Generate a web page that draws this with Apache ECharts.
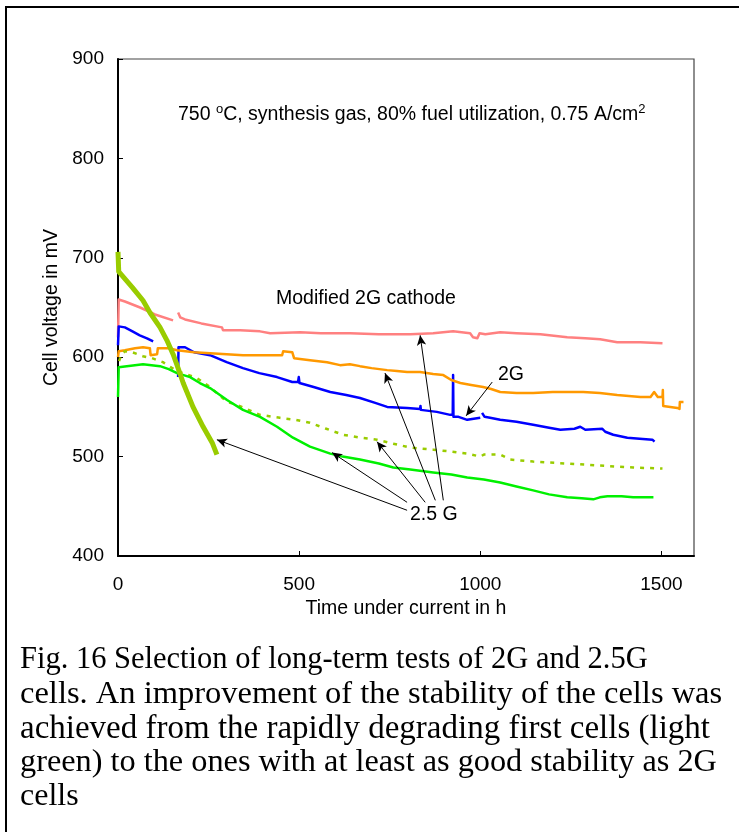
<!DOCTYPE html>
<html>
<head>
<meta charset="utf-8">
<script src="https://cdn.jsdelivr.net/npm/echarts@6/dist/echarts.min.js"></script>
<style>
html,body{margin:0;padding:0;background:#fff;}
#chart{width:739px;height:832px;}
</style>
</head>
<body>
<div id="chart"></div>
<script>
// ---- data (time in h, cell voltage in mV) ----
const xTicks = [0, 500, 1000, 1500];
const yTicks = [400, 500, 600, 700, 800, 900];

const pinkModified2G = [[0,620],[2,658],[19,656],[61,650],[102,643],[152,637],[160,'-'],[166,645],[172,640],[185,638],[230,634],[287,630],[290,627],[337,627],[392,626],[420,624],[503,625],[560,624],[641,624],[720,623],[807,623],[870,624],[925,626],[972,624],[980,620],[992,619],[998,624],[1014,623],[1055,625],[1100,624],[1166,623],[1240,620],[1290,619],[1331,618],[1378,615],[1442,615],[1503,614]];

const blue2G = [[0,612],[2,631],[19,630],[40,626],[60,622],[80,619],[97,616],[100,'-'],[166,580],[167,610],[185,610],[210,605],[254,602],[300,595],[345,589],[390,584],[439,580],[481,575],[497,575],[499,580],[501,574],[540,570],[586,565],[630,562],[668,559],[710,554],[743,550],[798,549],[834,548],[835,551],[836,547],[880,545],[917,542],[924,542],[925,582],[926,540],[940,540],[964,537],[1000,539],[1002,'-'],[1005,544],[1012,540],[1027,539],[1055,537],[1100,535],[1146,532],[1190,529],[1221,527],[1260,528],[1276,530],[1290,527],[1337,528],[1338,530],[1345,525],[1367,522],[1406,519],[1440,518],[1475,517],[1481,515]];

const orange25G = [[0,600],[2,606],[19,607],[47,609],[69,610],[88,609],[90,602],[108,603],[110,609],[140,609],[163,607],[210,605],[254,604],[300,603],[345,602],[400,602],[453,602],[456,606],[481,605],[486,599],[530,597],[577,595],[613,592],[640,593],[668,591],[700,589],[743,587],[770,586],[798,585],[834,585],[870,583],[898,582],[920,577],[945,574],[975,572],[1008,570],[1030,568],[1055,565],[1100,564],[1146,564],[1200,565],[1284,565],[1330,564],[1378,562],[1410,561],[1442,560],[1470,560],[1480,565],[1490,560],[1503,560],[1504,567],[1505,551],[1544,549],[1550,548],[1551,555],[1561,555]];

const green25G = [[0,560],[2,590],[6,592],[69,593],[116,591],[140,588],[163,584],[199,580],[226,574],[254,569],[301,557],[345,547],[392,540],[439,530],[483,519],[530,510],[586,503],[620,500],[668,497],[720,493],[760,489],[807,487],[870,484],[920,482],[964,479],[1010,477],[1055,474],[1100,470],[1146,466],[1190,462],[1240,459],[1280,458],[1312,457],[1330,459],[1351,460],[1390,460],[1422,459],[1478,459]];

const dotted25G = [[3,596],[10,603],[19,606],[39,605],[69,601],[94,599],[124,595],[163,586],[218,579],[254,570],[301,555],[329,552],[392,542],[447,539],[490,537],[530,534],[575,528],[621,522],[670,519],[715,517],[760,513],[807,509],[870,507],[920,505],[964,503],[1000,500],[1010,502],[1055,502],[1083,497],[1146,495],[1240,493],[1331,491],[1422,489],[1503,488]];

const firstCell = [[0,706],[2,686],[6,685],[40,670],[69,657],[88,645],[116,630],[135,617],[152,603],[163,592],[180,574],[207,550],[235,530],[260,514],[273,502]];

// annotation arrows: [from, to] in data coordinates
const arrows25G = [
  [[898,456],[834,622]],
  [[876,456],[737,584]],
  [[848,454],[715,515]],
  [[798,454],[591,504]],
  [[798,446],[273,517]]
];
const arrow2G = [[[1033,575],[961,541]]];

const captionLines = [
  'Fig. 16 Selection of long-term tests of 2G and 2.5G',
  'cells. An improvement of the stability of the cells was',
  'achieved from the rapidly degrading first cells (light',
  'green) to the ones with at least as good stability as 2G',
  'cells'
];

const sans = 'Liberation Sans, Arial, sans-serif';
const serif = 'Liberation Serif, Times New Roman, serif';

const chart = echarts.init(document.getElementById('chart'), null, {renderer:'canvas'});

function lineSeries(name, data, color, width, type) {
  return {
    name, type:'line', data, showSymbol:false, symbol:'none',
    connectNulls:false, animation:false, silent:true,
    lineStyle:{color, width, type: type || 'solid', cap:'butt', join:'round'},
    z: 3
  };
}

const arrowData = arrows25G.concat(arrow2G).map(p => [{coord:p[0]},{coord:p[1]}]);
const captionY = [660, 694, 729, 763, 797];
const captionSize = [30.5, 32.5, 33, 32.3, 32];

const option = {
  backgroundColor:'#fff',
  animation:false,
  grid:{left:118, top:59, right:45, bottom:276, show:true, borderColor:'#444', borderWidth:1.2},
  xAxis:{
    type:'value', min:0, max:1590, interval:500,
    name:'Time under current in h', nameLocation:'middle', nameGap:37,
    nameTextStyle:{fontFamily:sans, fontSize:19.5, color:'#000'},
    axisLine:{show:true, lineStyle:{color:'#000', width:2}},
    axisTick:{show:true, inside:true, length:5, lineStyle:{color:'#000', width:1}},
    axisLabel:{fontFamily:sans, fontSize:19, color:'#000', margin:19, showMaxLabel:false,
      formatter: v => xTicks.indexOf(v) >= 0 ? String(v) : ''},
    splitLine:{show:false}
  },
  yAxis:{
    type:'value', min:400, max:900, interval:100,
    name:'Cell voltage in mV', nameLocation:'middle', nameGap:55, nameRotate:90,
    nameTextStyle:{fontFamily:sans, fontSize:19.5, color:'#000'},
    axisLine:{show:true, lineStyle:{color:'#000', width:2}},
    axisTick:{show:true, inside:true, length:5, lineStyle:{color:'#000', width:1}},
    axisLabel:{fontFamily:sans, fontSize:19, color:'#000', margin:14,
      formatter: v => yTicks.indexOf(v) >= 0 ? String(v) : ''},
    splitLine:{show:false}
  },
  series:[
    lineSeries('Modified 2G cathode', pinkModified2G, '#FF8080', 2.5),
    lineSeries('2G', blue2G, '#0000FF', 2.5),
    lineSeries('2.5G orange', orange25G, '#FF9900', 2.5),
    lineSeries('2.5G dotted', dotted25G, '#99CC00', 2.5, [4,6]),
    lineSeries('2.5G green', green25G, '#00F000', 2.5),
    lineSeries('first cell', firstCell, '#99CC00', 5),
    {
      name:'arrows', type:'line', data:[], silent:true, animation:false,
      markLine:{
        silent:true, animation:false,
        symbol:['none','arrow'], symbolSize:[7,10],
        label:{show:false},
        lineStyle:{color:'#000', width:1, type:'solid'},
        emphasis:{disabled:true},
        data: arrowData
      },
      z: 4
    }
  ],
  graphic:[
    {type:'rect', shape:{x:6, y:7, width:800, height:900}, style:{fill:'none', stroke:'#000', lineWidth:2}, z:-1, silent:true},
    {type:'text', x:178, y:115, style:{
      text:'750 {s|o}C, synthesis gas, 80% fuel utilization, 0.75 A/cm{s|2}',
      fontFamily:sans, fontSize:19.5, fill:'#000', align:'left', verticalAlign:'middle', lineHeight:24,
      rich:{s:{fontFamily:sans, fontSize:13, fill:'#000', verticalAlign:'top', lineHeight:24, padding:[0,0,10,0]}}
    }, z:10},
    {type:'text', x:276, y:299, style:{text:'Modified 2G cathode', fontFamily:sans, fontSize:19.5, fill:'#000', align:'left', verticalAlign:'middle'}, z:10},
    {type:'text', x:498, y:375, style:{text:'2G', fontFamily:sans, fontSize:19.5, fill:'#000', align:'left', verticalAlign:'middle'}, z:10},
    {type:'text', x:410, y:515, style:{text:'2.5 G', fontFamily:sans, fontSize:19.5, fill:'#000', align:'left', verticalAlign:'middle'}, z:10}
  ].concat(captionLines.map((t, i) => ({
    type:'text', x:20, y:captionY[i],
    style:{text:t, fontFamily:serif, fontSize:captionSize[i], fill:'#000', align:'left', verticalAlign:'middle'}, z:10
  })))
};
chart.setOption(option);
</script>
</body>
</html>
